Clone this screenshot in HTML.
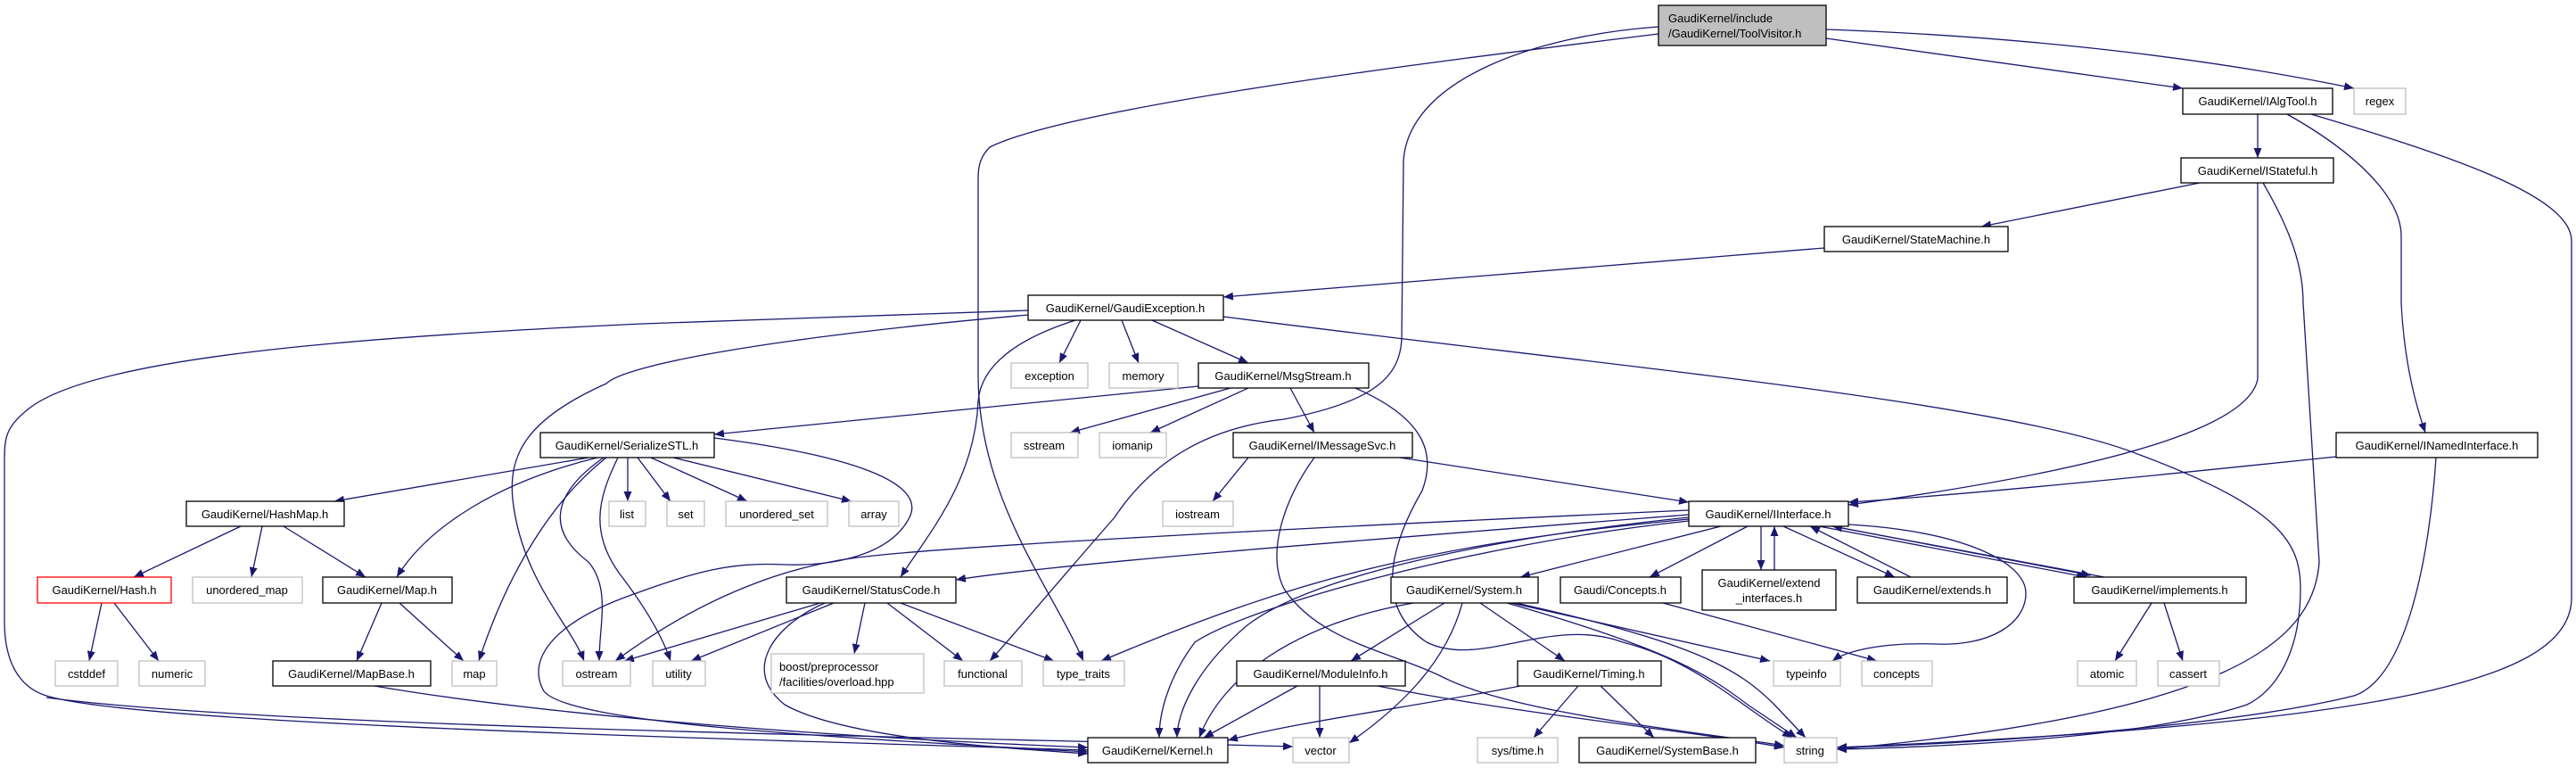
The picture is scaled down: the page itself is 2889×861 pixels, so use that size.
<!DOCTYPE html>
<html><head><meta charset="utf-8"><style>
html,body{margin:0;padding:0;background:#fff;}
svg{display:block;}
text{font-family:"Liberation Sans",sans-serif;font-size:13px;fill:#000;}
.e{fill:none;stroke:#191970;stroke-width:1.3;}
.d{fill:#fff;stroke:#000;stroke-width:1.3;}
.x{fill:#fff;stroke:#bfbfbf;stroke-width:1.3;}
</style></head><body>
<svg width="2889" height="861" viewBox="0 0 2889 861" xmlns="http://www.w3.org/2000/svg">
<defs><marker id="a" markerUnits="userSpaceOnUse" markerWidth="12" markerHeight="9" refX="11" refY="4.5" orient="auto"><path d="M0,0 L11,4.5 L0,9 z" fill="#191970"/></marker></defs>
<g marker-end="url(#a)">
<path class="e" d="M2048,43 C2200,65 2350,85 2448,99"/>
<path class="e" d="M2048,33 C2300,42 2500,70 2640,99"/>
<path class="e" d="M1860,38 C1600,70 1200,120 1110,165 C1100,175 1097,185 1097,200 L1097,420 C1097,560 1180,660 1215,741"/>
<path class="e" d="M1860,30 C1720,40 1580,90 1574,180 L1572,380 C1570,420 1545,450 1440,470 C1350,480 1290,520 1250,580 C1180,660 1130,720 1110,741"/>
<path class="e" d="M2532,128 L2532,177"/>
<path class="e" d="M2565,128 C2640,170 2693,220 2693,265 L2693,340 C2697,420 2715,470 2720,485"/>
<path class="e" d="M2592,128 C2750,175 2884,220 2884,270 L2884,670 C2884,760 2700,810 2060,838"/>
<path class="e" d="M2467,205 L2222,254"/>
<path class="e" d="M2532,205 L2532,425 C2520,490 2300,535 2073,566"/>
<path class="e" d="M2538,205 C2570,260 2583,300 2583,340 L2601,630 C2595,720 2500,800 2060,840"/>
<path class="e" d="M2046,278 L1372,333"/>
<path class="e" d="M1212,359 L1188,407"/>
<path class="e" d="M1258,359 L1277,407"/>
<path class="e" d="M1292,359 L1400,407"/>
<path class="e" d="M1206,359 C1140,380 1100,410 1097,450 C1093,540 1040,600 1010,647"/>
<path class="e" d="M1153,348 L720,363 C400,378 100,400 30,460 C5,480 5,493 5,520 L5,697 C5,740 20,770 52,780 C150,810 700,825 1220,841"/>
<path class="e" d="M1153,353 C850,380 700,410 680,430 C590,470 570,510 575,560 C585,650 640,700 655,741"/>
<path class="e" d="M1372,355 C1800,410 2250,450 2400,510 C2560,570 2580,610 2580,660 C2580,720 2560,770 2520,790 C2400,830 2150,838 2060,840"/>
<path class="e" d="M1344,433 L801,487"/>
<path class="e" d="M1380,435 L1200,485"/>
<path class="e" d="M1400,435 L1290,485"/>
<path class="e" d="M1447,435 L1474,485"/>
<path class="e" d="M1520,435 C1600,470 1610,510 1595,550 C1560,610 1540,680 1600,720 C1660,750 1740,690 1820,720 C1900,740 1950,790 2010,827"/>
<path class="e" d="M660,513 L375,562"/>
<path class="e" d="M670,513 C560,540 480,590 445,647"/>
<path class="e" d="M680,513 C620,560 570,640 537,741"/>
<path class="e" d="M677,513 C610,560 620,600 660,630 C685,660 672,700 672,741"/>
<path class="e" d="M693,513 C670,560 660,600 700,650 C730,690 745,720 752,741"/>
<path class="e" d="M704,513 L704,562"/>
<path class="e" d="M715,513 L752,562"/>
<path class="e" d="M730,513 L838,562"/>
<path class="e" d="M755,513 L955,562"/>
<path class="e" d="M801,491 C950,510 1040,540 1020,580 C1000,620 940,635 880,633 C820,630 780,640 700,670 C620,700 590,740 610,775 C640,810 900,825 1220,843"/>
<path class="e" d="M1894,572 C1500,590 1100,610 980,623 C900,630 800,660 690,741"/>
<path class="e" d="M920,676 L700,741"/>
<path class="e" d="M935,676 L775,741"/>
<path class="e" d="M970,676 L958,733"/>
<path class="e" d="M995,676 L1080,741"/>
<path class="e" d="M1010,676 L1182,741"/>
<path class="e" d="M925,676 C870,700 830,750 880,790 C950,830 1150,840 1220,845"/>
<path class="e" d="M420,769 C600,800 900,825 1220,838"/>
<path class="e" d="M52,782 C300,815 1000,825 1450,837"/>
<path class="e" d="M270,590 L150,647"/>
<path class="e" d="M294,590 L282,647"/>
<path class="e" d="M318,590 L410,647"/>
<path class="e" d="M114,676 L100,741"/>
<path class="e" d="M128,676 L178,741"/>
<path class="e" d="M428,676 L400,741"/>
<path class="e" d="M448,676 L520,741"/>
<path class="e" d="M1400,513 L1360,562"/>
<path class="e" d="M1570,513 L1894,563"/>
<path class="e" d="M1474,513 C1440,560 1420,620 1440,660 C1480,720 1560,730 1620,760 C1700,800 1900,820 2001,836"/>
<path class="e" d="M2620,512 C2400,535 2200,555 2073,563"/>
<path class="e" d="M2732,513 C2725,620 2700,760 2640,780 C2500,815 2200,835 2060,838"/>
<path class="e" d="M1894,577 C1600,600 1200,630 1072,650"/>
<path class="e" d="M1930,590 L1705,647"/>
<path class="e" d="M1960,590 L1850,647"/>
<path class="e" d="M1975,590 L1975,639"/>
<path class="e" d="M1990,639 L1990,590"/>
<path class="e" d="M2000,590 L2125,647"/>
<path class="e" d="M2143,647 L2030,590"/>
<path class="e" d="M2040,590 L2340,647"/>
<path class="e" d="M2045,588 L2345,645"/>
<path class="e" d="M2360,647 L2055,590"/>
<path class="e" d="M1894,580 C1700,600 1480,640 1400,700 C1340,750 1320,800 1320,827"/>
<path class="e" d="M1894,584 C1650,610 1400,680 1340,720 C1310,760 1300,800 1300,827"/>
<path class="e" d="M1894,582 C1600,610 1450,650 1235,741"/>
<path class="e" d="M2073,588 C2200,595 2272,630 2272,665 C2272,700 2230,725 2170,722 C2110,720 2070,730 2055,741"/>
<path class="e" d="M1620,676 L1515,741"/>
<path class="e" d="M1660,676 L1755,741"/>
<path class="e" d="M1585,676 C1450,700 1370,760 1345,827"/>
<path class="e" d="M1640,676 C1620,750 1560,800 1513,833"/>
<path class="e" d="M1695,676 L1985,741"/>
<path class="e" d="M1690,676 C1880,730 1920,760 1960,790 L2015,827"/>
<path class="e" d="M1700,676 C1900,720 1950,750 1990,790 L2025,827"/>
<path class="e" d="M1455,769 L1350,827"/>
<path class="e" d="M1480,769 L1480,827"/>
<path class="e" d="M1545,769 C1700,800 1900,820 2001,838"/>
<path class="e" d="M1705,769 C1600,790 1450,810 1377,830"/>
<path class="e" d="M1770,769 L1720,827"/>
<path class="e" d="M1795,769 L1855,827"/>
<path class="e" d="M1865,676 L2105,741"/>
<path class="e" d="M2413,676 L2372,741"/>
<path class="e" d="M2427,676 L2448,741"/>
</g>
<!-- nodes -->
<rect x="1860" y="6" width="188" height="45" fill="#bfbfbf" stroke="#000" stroke-width="1.3"/>
<text x="1871" y="25">GaudiKernel/include</text><text x="1871" y="42">/GaudiKernel/ToolVisitor.h</text>

<rect class="d" x="2448" y="99" width="168" height="29"/><text x="2532" y="118" text-anchor="middle">GaudiKernel/IAlgTool.h</text>
<rect class="x" x="2640" y="99" width="58" height="29"/><text x="2669" y="118" text-anchor="middle">regex</text>
<rect class="d" x="2446" y="177" width="171" height="28"/><text x="2532" y="196" text-anchor="middle">GaudiKernel/IStateful.h</text>
<rect class="d" x="2046" y="254" width="206" height="28"/><text x="2149" y="273" text-anchor="middle">GaudiKernel/StateMachine.h</text>
<rect class="d" x="1153" y="331" width="219" height="28"/><text x="1262" y="350" text-anchor="middle">GaudiKernel/GaudiException.h</text>
<rect class="x" x="1134" y="407" width="86" height="28"/><text x="1177" y="426" text-anchor="middle">exception</text>
<rect class="x" x="1244" y="407" width="77" height="28"/><text x="1282" y="426" text-anchor="middle">memory</text>
<rect class="d" x="1344" y="407" width="191" height="28"/><text x="1439" y="426" text-anchor="middle">GaudiKernel/MsgStream.h</text>

<rect class="d" x="606" y="485" width="195" height="28"/><text x="703" y="504" text-anchor="middle">GaudiKernel/SerializeSTL.h</text>
<rect class="x" x="1134" y="485" width="75" height="28"/><text x="1171" y="504" text-anchor="middle">sstream</text>
<rect class="x" x="1233" y="485" width="75" height="28"/><text x="1270" y="504" text-anchor="middle">iomanip</text>
<rect class="d" x="1383" y="485" width="201" height="28"/><text x="1483" y="504" text-anchor="middle">GaudiKernel/IMessageSvc.h</text>
<rect class="d" x="2620" y="485" width="226" height="28"/><text x="2733" y="504" text-anchor="middle">GaudiKernel/INamedInterface.h</text>

<rect class="d" x="209" y="562" width="177" height="28"/><text x="297" y="581" text-anchor="middle">GaudiKernel/HashMap.h</text>
<rect class="x" x="683" y="562" width="41" height="28"/><text x="703" y="581" text-anchor="middle">list</text>
<rect class="x" x="748" y="562" width="42" height="28"/><text x="769" y="581" text-anchor="middle">set</text>
<rect class="x" x="814" y="562" width="114" height="28"/><text x="871" y="581" text-anchor="middle">unordered_set</text>
<rect class="x" x="952" y="562" width="56" height="28"/><text x="980" y="581" text-anchor="middle">array</text>
<rect class="x" x="1304" y="562" width="79" height="28"/><text x="1343" y="581" text-anchor="middle">iostream</text>
<rect class="d" x="1894" y="562" width="179" height="28"/><text x="1983" y="581" text-anchor="middle">GaudiKernel/IInterface.h</text>

<rect x="42" y="647" width="150" height="29" fill="#fff" stroke="#ff0000" stroke-width="1.3"/><text x="117" y="666" text-anchor="middle">GaudiKernel/Hash.h</text>
<rect class="x" x="216" y="647" width="123" height="29"/><text x="277" y="666" text-anchor="middle">unordered_map</text>
<rect class="d" x="362" y="647" width="145" height="29"/><text x="434" y="666" text-anchor="middle">GaudiKernel/Map.h</text>
<rect class="d" x="882" y="647" width="190" height="29"/><text x="977" y="666" text-anchor="middle">GaudiKernel/StatusCode.h</text>
<rect class="d" x="1560" y="647" width="165" height="29"/><text x="1642" y="666" text-anchor="middle">GaudiKernel/System.h</text>
<rect class="d" x="1750" y="647" width="135" height="29"/><text x="1817" y="666" text-anchor="middle">Gaudi/Concepts.h</text>
<rect class="d" x="1909" y="639" width="150" height="45"/><text x="1984" y="658" text-anchor="middle">GaudiKernel/extend</text><text x="1984" y="675" text-anchor="middle">_interfaces.h</text>
<rect class="d" x="2083" y="647" width="168" height="29"/><text x="2167" y="666" text-anchor="middle">GaudiKernel/extends.h</text>
<rect class="d" x="2326" y="647" width="193" height="29"/><text x="2422" y="666" text-anchor="middle">GaudiKernel/implements.h</text>

<rect class="x" x="62" y="741" width="70" height="28"/><text x="97" y="760" text-anchor="middle">cstddef</text>
<rect class="x" x="156" y="741" width="74" height="28"/><text x="193" y="760" text-anchor="middle">numeric</text>
<rect class="d" x="306" y="741" width="177" height="28"/><text x="394" y="760" text-anchor="middle">GaudiKernel/MapBase.h</text>
<rect class="x" x="507" y="741" width="50" height="28"/><text x="532" y="760" text-anchor="middle">map</text>
<rect class="x" x="631" y="741" width="76" height="28"/><text x="669" y="760" text-anchor="middle">ostream</text>
<rect class="x" x="732" y="741" width="59" height="28"/><text x="761" y="760" text-anchor="middle">utility</text>
<rect class="x" x="865" y="733" width="171" height="44"/><text x="874" y="752">boost/preprocessor</text><text x="874" y="769">/facilities/overload.hpp</text>
<rect class="x" x="1059" y="741" width="87" height="28"/><text x="1102" y="760" text-anchor="middle">functional</text>
<rect class="x" x="1170" y="741" width="91" height="28"/><text x="1215" y="760" text-anchor="middle">type_traits</text>
<rect class="d" x="1387" y="741" width="189" height="28"/><text x="1481" y="760" text-anchor="middle">GaudiKernel/ModuleInfo.h</text>
<rect class="d" x="1702" y="741" width="161" height="28"/><text x="1782" y="760" text-anchor="middle">GaudiKernel/Timing.h</text>
<rect class="x" x="1989" y="741" width="75" height="28"/><text x="2026" y="760" text-anchor="middle">typeinfo</text>
<rect class="x" x="2088" y="741" width="79" height="28"/><text x="2127" y="760" text-anchor="middle">concepts</text>
<rect class="x" x="2330" y="741" width="66" height="28"/><text x="2363" y="760" text-anchor="middle">atomic</text>
<rect class="x" x="2420" y="741" width="69" height="28"/><text x="2454" y="760" text-anchor="middle">cassert</text>

<rect class="d" x="1220" y="827" width="157" height="28"/><text x="1298" y="846" text-anchor="middle">GaudiKernel/Kernel.h</text>
<rect class="x" x="1450" y="827" width="63" height="28"/><text x="1481" y="846" text-anchor="middle">vector</text>
<rect class="x" x="1657" y="827" width="90" height="28"/><text x="1702" y="846" text-anchor="middle">sys/time.h</text>
<rect class="d" x="1771" y="827" width="198" height="28"/><text x="1870" y="846" text-anchor="middle">GaudiKernel/SystemBase.h</text>
<rect class="x" x="2001" y="827" width="59" height="28"/><text x="2030" y="846" text-anchor="middle">string</text>
</svg>
</body></html>
